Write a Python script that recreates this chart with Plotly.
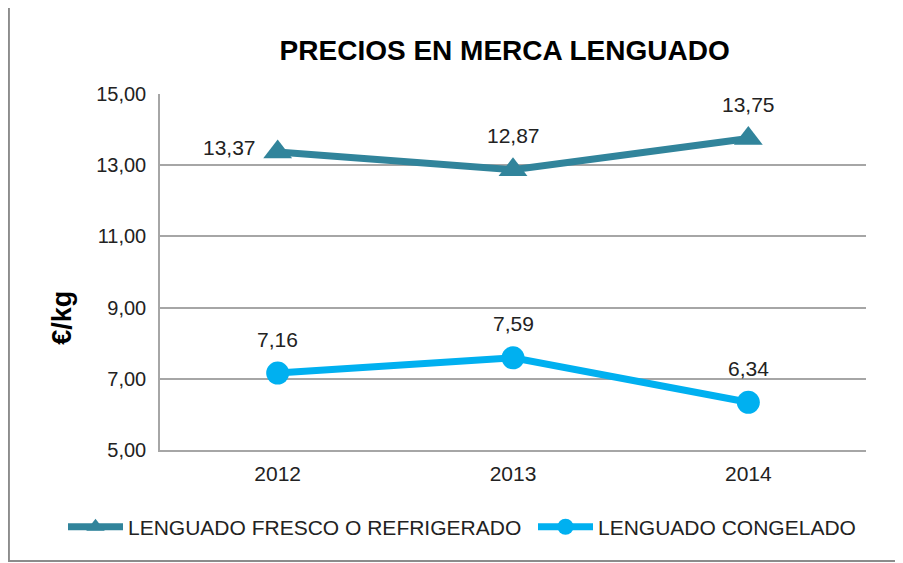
import plotly.graph_objects as go

years = ["2012", "2013", "2014"]
fresco = [13.37, 12.87, 13.75]
congelado = [7.16, 7.59, 6.34]
y_ticks = [5, 7, 9, 11, 13, 15]

teal = "#31849B"
sky = "#00B0F0"
grid = "#A6A6A6"
font_name = "Liberation Sans, Arial, sans-serif"

fig = go.Figure()

fig.add_trace(
    go.Scatter(
        x=years,
        y=fresco,
        mode="lines+markers",
        name="LENGUADO FRESCO O REFRIGERADO",
        line=dict(color=teal, width=7),
        marker=dict(symbol="triangle-up", size=25, color=teal),
        legend="legend",
    )
)

fig.add_trace(
    go.Scatter(
        x=years,
        y=congelado,
        mode="lines+markers",
        name="LENGUADO CONGELADO",
        line=dict(color=sky, width=7),
        marker=dict(symbol="circle", size=23, color=sky),
        legend="legend2",
    )
)

# etiquetas de datos (coma decimal); x = índice de categoría
for serie in (fresco, congelado):
    for i, valor in enumerate(serie):
        izquierda = serie is fresco and i == 0
        fig.add_annotation(
            x=i, y=valor, xref="x", yref="y",
            text=f"{valor:.2f}".replace(".", ","),
            showarrow=False,
            xanchor="right" if izquierda else "center",
            yanchor="middle",
            xshift=-20 if izquierda else 0,
            yshift=5 if izquierda else 34,
            font=dict(size=21, color="#222222"),
        )

# marco exterior del gráfico
fig.add_shape(
    type="rect", xref="paper", yref="paper",
    x0=-0.214, x1=1.06, y0=-0.312, y1=1.253,
    line=dict(color="#8C8C8C", width=2), layer="below",
)

fig.add_annotation(
    text="<b>€/kg</b>", xref="paper", yref="paper",
    x=-0.139, y=0.371, xanchor="center", yanchor="middle",
    textangle=-90, showarrow=False,
    font=dict(size=27, color="#000000"),
)

legend_style = dict(
    orientation="h",
    xref="container", yref="container",
    xanchor="left", yanchor="middle",
    y=0.078,
    itemwidth=55,
    bgcolor="rgba(0,0,0,0)",
    font=dict(size=21, color="#222222"),
)

fig.update_layout(
    title=dict(
        text="<b>PRECIOS EN MERCA LENGUADO</b>",
        x=0.55, xanchor="center", y=0.925, yanchor="middle",
        font=dict(size=28, color="#000000", family=font_name),
    ),
    xaxis=dict(
        type="category",
        range=[-0.5, 2.5],
        showgrid=False,
        showline=True,
        linecolor=grid,
        linewidth=2,
        ticks="",
        ticklabelstandoff=4,
        tickfont=dict(size=21, color="#222222"),
    ),
    yaxis=dict(
        range=[5, 15],
        tickvals=y_ticks,
        tickformat=".2f",
        gridcolor=grid,
        gridwidth=1.5,
        showline=True,
        linecolor=grid,
        linewidth=1.5,
        zeroline=False,
        ticks="",
        ticklabelstandoff=8,
        tickfont=dict(size=20, color="#222222"),
    ),
    separators=",.",
    width=903,
    height=563,
    plot_bgcolor="#FFFFFF",
    paper_bgcolor="#FFFFFF",
    font=dict(family=font_name, color="#222222"),
    showlegend=True,
    legend=dict(legend_style, x=55 / 903),
    legend2=dict(legend_style, x=525 / 903),
    margin=dict(l=152, r=45, t=86, b=121, autoexpand=False),
)

fig.write_html("out.html")
